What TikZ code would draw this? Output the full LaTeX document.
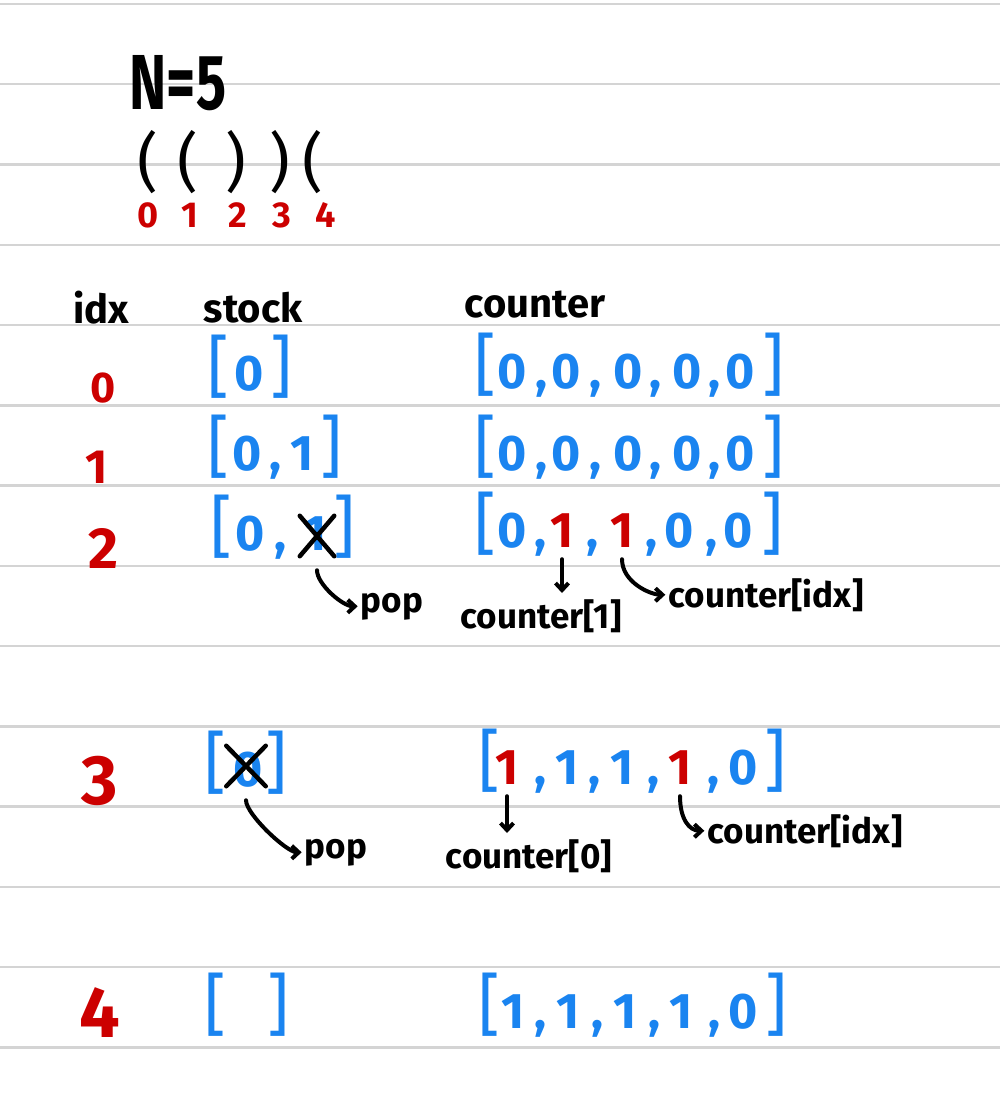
\documentclass[tikz,border=0pt]{standalone}
\usepackage{fontspec}
\setmainfont{Fira Sans}
\usetikzlibrary{arrows.meta, shapes.misc}
\definecolor{cblue}{HTML}{1A84F0}
\definecolor{cred}{HTML}{CC0000}
\definecolor{cline}{HTML}{D4D4D4}
\newcommand{\fs}[1]{\fontsize{#1}{#1}\selectfont}
\tikzset{
  rule/.style={draw=cline, line width=2.5pt},
  cell/.style={text=#1, inner sep=0pt, anchor=base, font=\bfseries\fs{50}},
  cell/.default=cblue,
  brk/.style={text=cblue, inner sep=0pt, anchor=base, font=\fs{68}},
  idx/.style={text=cred, inner sep=0pt, font=\bfseries\fs{#1}},
  head/.style={inner sep=0pt, anchor=base, font=\bfseries\fs{40}},
  note/.style={inner sep=0pt, anchor=base, font=\bfseries\fs{35}},
  paren/.style={inner sep=0pt, font=\fs{64}},
  strike/.style={cross out, draw=black, line width=4.5pt, line cap=round, inner sep=0pt, minimum width=#1, minimum height=36pt},
  hook/.style={line width=4pt, line cap=round, -{Straight Barb[length=7pt, width=13pt]}},
}
\begin{document}
\begin{tikzpicture}[x=1pt, y=-1pt]
  \fill[white] (0,0) rectangle (1000,1115);
  \useasboundingbox (0,0) rectangle (1000,1115);
  \foreach \k in {0,...,13} \draw[rule] (0,{4+80.25*\k}) -- (1000,{4+80.25*\k});
  % input string
  \node[inner sep=0pt, anchor=base, font=\bfseries\fs{78}] (n) at (178,110) {\scalebox{0.72}[1]{N=5}};
  \node[paren] (p0) at (148,162) {(};
  \node[paren] (p1) at (188,162) {(};
  \node[paren] (p2) at (236,162) {)};
  \node[paren] (p3) at (280,162) {)};
  \node[paren] (p4) at (313,162) {(};
  \foreach \x/\d in {148/0, 190/1, 238/2, 282/3, 326/4} \node[idx=36, anchor=base] (i\d) at (\x,228) {\d};
  % table head
  \node[head] (hidx) at (101,323) {idx};
  \node[head] (hstk) at (253,322) {stock};
  \node[head] (hcnt) at (535,317) {counter};
  % idx column
  \node[idx=43] (r0) at (103,388) {0};
  \node[idx=48] (r1) at (97,467) {1};
  \node[idx=58] (r2) at (103,548) {2};
  \node[idx=70] (r3) at (100,781) {3};
  \node[idx=72] (r4) at (100,1013) {4};
  % stack column
  \node[brk] (s0-l) at (218,390) {[};
  \node[cell] (s0-1) at (249,390) {0};
  \node[brk] (s0-r) at (281,390) {]};
  \node[brk] (s1-l) at (218,470) {[};
  \node[cell] (s1-1) at (247,470) {0};
  \node[cell] (s1-k1) at (275,470) {,};
  \node[cell] (s1-2) at (302,470) {1};
  \node[brk] (s1-r) at (331,470) {]};
  \node[brk] (s2-l) at (221,550) {[};
  \node[cell] (s2-1) at (250,550) {0};
  \node[cell] (s2-k1) at (280,550) {,};
  \node[cell] (s2-2) at (315,550) {1};
  \node[brk] (s2-r) at (344,550) {]};
  \node[brk] (s3-l) at (215,786) {[};
  \node[cell] (s3-1) at (248,786) {0};
  \node[brk] (s3-r) at (276,786) {]};
  \node[brk] (s4-l) at (215,1028) {[};
  \node[brk] (s4-r) at (278,1028) {]};
  \node[strike=30pt] (x2) at (317,536) {};
  \node[strike=35pt] (x3) at (246,766) {};
  % counter column
  \node[brk] (c0-l) at (485,388) {[};
  \foreach \x [count=\i] in {512,566,628,687,740} \node[cell] (c0-\i) at (\x,388) {0};
  \foreach \x [count=\i] in {541,595,655,714} \node[cell] (c0-k\i) at (\x,388) {,};
  \node[brk] (c0-r) at (773,388) {]};
  \node[brk] (c1-l) at (485,470) {[};
  \foreach \x [count=\i] in {512,566,628,687,740} \node[cell] (c1-\i) at (\x,470) {0};
  \foreach \x [count=\i] in {541,595,655,714} \node[cell] (c1-k\i) at (\x,470) {,};
  \node[brk] (c1-r) at (773,470) {]};
  \node[brk] (c2-l) at (485,547) {[};
  \foreach \x/\t/\c [count=\i] in {512/0/cblue, 562/1/cred, 622/1/cred, 679/0/cblue, 738/0/cblue} \node[cell=\c] (c2-\i) at (\x,547) {\t};
  \foreach \x [count=\i] in {540,592,651,711} \node[cell] (c2-k\i) at (\x,547) {,};
  \node[brk] (c2-r) at (772,547) {]};
  \node[brk] (c3-l) at (489,784) {[};
  \foreach \x/\t/\c [count=\i] in {507/1/cred, 567/1/cblue, 622/1/cblue, 680/1/cred, 743/0/cblue} \node[cell=\c] (c3-\i) at (\x,784) {\t};
  \foreach \x [count=\i] in {540,594,653,713} \node[cell] (c3-k\i) at (\x,784) {,};
  \node[brk] (c3-r) at (775,784) {]};
  \node[brk] (c4-l) at (489,1028) {[};
  \foreach \x/\t [count=\i] in {513/1, 568/1, 625/1, 681/1, 743/0} \node[cell] (c4-\i) at (\x,1028) {\t};
  \foreach \x [count=\i] in {540,597,654,714} \node[cell] (c4-k\i) at (\x,1028) {,};
  \node[brk] (c4-r) at (776,1028) {]};
  % notes
  \node[note] (pop2) at (392,612) {pop};
  \node[note] (lb21) at (541,628) {counter[1]};
  \node[note] (ci2) at (766,607) {counter[idx]};
  \node[note] (pop3) at (336,858) {pop};
  \node[note] (lb30) at (529,868) {counter[0]};
  \node[note] (ci3) at (805,843) {counter[idx]};
  \draw[hook, shorten <=14pt, shorten >=3pt] (x2.south) .. controls +(0,28) and +(-18,0) .. (pop2.west);
  \draw[hook, shorten <=14pt, shorten >=3pt] (x3.south) .. controls +(0,28) and +(-18,0) .. (pop3.west);
  \draw[hook, shorten <=12pt, shorten >=6pt] (c2-2.south) -- (c2-2.south |- lb21.north);
  \draw[hook, shorten <=12pt, shorten >=3pt] (c2-3.south) .. controls +(0,35) and +(-18,0) .. (ci2.west);
  \draw[hook, shorten <=12pt, shorten >=6pt] (c3-1.south) -- (c3-1.south |- lb30.north);
  \draw[hook, shorten <=12pt, shorten >=3pt] (c3-4.south) .. controls +(0,35) and +(-18,0) .. (ci3.west);
\end{tikzpicture}
\end{document}
